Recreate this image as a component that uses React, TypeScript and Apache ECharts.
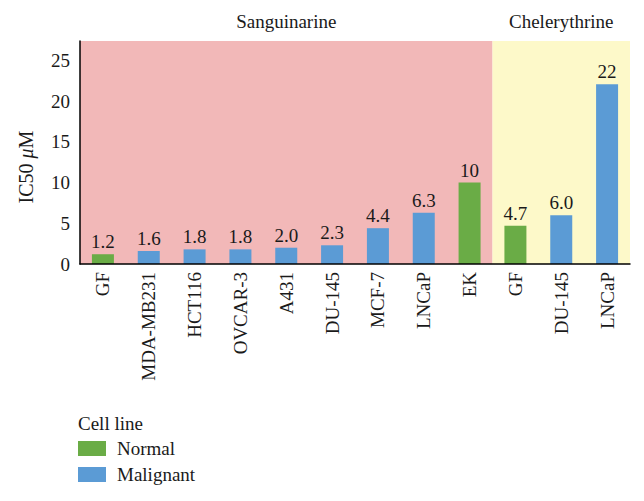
import React, { useEffect, useRef } from "react";
import * as echarts from "echarts";

const categories = ["GF", "MDA-MB231", "HCT116", "OVCAR-3", "A431", "DU-145", "MCF-7", "LNCaP", "EK", "GF", "DU-145", "LNCaP"];
const normalValues: (number | null)[] = [1.2, null, null, null, null, null, null, null, 10, 4.7, null, null];
const malignantValues: (number | null)[] = [null, 1.6, 1.8, 1.8, 2.0, 2.3, 4.4, 6.3, null, null, 6.0, 22.1];
const groups = [
  { name: "Sanguinarine", from: 0, to: 9, color: "#f2b8b8" },
  { name: "Chelerythrine", from: 9, to: 12, color: "#fdf9c9" },
];

const FONT = "Liberation Serif";
const FS = 19;
const TXT = "#1a1a1a";

export default function App() {
  const ref = useRef<HTMLDivElement>(null);
  useEffect(() => {
    if (!ref.current) return;
    const chart = echarts.init(ref.current, null, { renderer: "svg" });
    const fmt = (p: any) => {
      const v = p.value;
      if (v == null) return "";
      return v >= 10 ? String(Math.round(v)) : v.toFixed(1);
    };
    const labelCfg = {
      show: true,
      position: "top",
      distance: 3,
      fontSize: FS,
      fontFamily: FONT,
      color: TXT,
      formatter: fmt,
    };
    chart.setOption({
      animation: false,
      textStyle: { fontFamily: FONT },
      grid: { left: 80, right: 14, top: 41, bottom: 237 },
      legend: {
        orient: "vertical",
        left: 78,
        top: 439,
        padding: 0,
        itemWidth: 28,
        itemHeight: 15,
        itemGap: 7,
        icon: "rect",
        textStyle: { fontSize: FS, fontFamily: FONT, color: TXT, lineHeight: 15, height: 15, padding: [0, 0, 0, 6] },
        data: ["Normal", "Malignant"],
      },
      graphic: [
        {
          type: "text",
          left: 78,
          top: 414,
          style: { text: "Cell line", font: `${FS}px "${FONT}"`, fill: TXT },
        },
        {
          type: "text",
          x: 26,
          y: 167,
          rotation: Math.PI / 2,
          style: {
            text: "{a|IC50 }{b|μ}{a|M}",
            align: "center",
            verticalAlign: "middle",
            rich: {
              a: { fontSize: 20, fontFamily: FONT, fill: TXT },
              b: { fontSize: 20, fontFamily: FONT, fontStyle: "italic", fill: TXT },
            },
          },
        },
      ],
      xAxis: [
        {
          type: "category",
          data: categories,
          axisTick: { show: false },
          axisLine: { lineStyle: { color: "#000", width: 1.5 } },
          axisLabel: { rotate: 90, fontSize: FS, fontFamily: FONT, color: TXT, margin: 8, interval: 0 },
          z: 10,
        },
        { type: "value", min: 0, max: categories.length, show: false },
      ],
      yAxis: {
        type: "value",
        min: 0,
        max: 27.4,
        interval: 5,
        splitLine: { show: false },
        axisTick: { show: false },
        axisLine: { show: true, lineStyle: { color: "#000", width: 1.5 } },
        axisLabel: { fontSize: FS, fontFamily: FONT, color: TXT, margin: 10, showMaxLabel: false },
        z: 10,
      },
      series: [
        {
          name: "bg",
          type: "line",
          xAxisIndex: 1,
          data: [],
          silent: true,
          markArea: {
            silent: true,
            data: groups.map((g) => [
              {
                xAxis: g.from,
                itemStyle: { color: g.color },
                label: {
                  show: true,
                  position: "top",
                  distance: 10,
                  formatter: g.name,
                  fontSize: FS,
                  fontFamily: FONT,
                  color: TXT,
                },
              },
              { xAxis: g.to },
            ]),
          },
        },
        {
          name: "Normal",
          type: "bar",
          data: normalValues,
          barWidth: "48%",
          barGap: "-100%",
          itemStyle: { color: "#6aac46" },
          label: labelCfg,
        },
        {
          name: "Malignant",
          type: "bar",
          data: malignantValues,
          barWidth: "48%",
          itemStyle: { color: "#5b9bd5" },
          label: labelCfg,
        },
      ],
    });
    return () => chart.dispose();
  }, []);
  return <div ref={ref} style={{ width: 644, height: 501, marginLeft: -8, marginTop: -8 }} />;
}
